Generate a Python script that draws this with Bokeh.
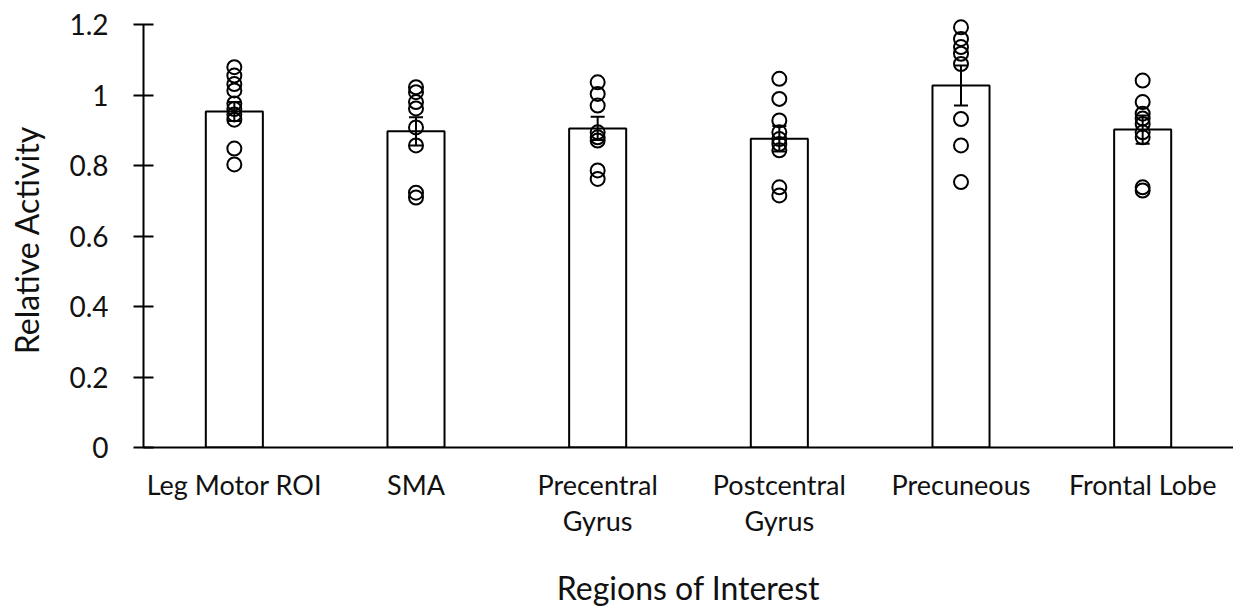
from bokeh.plotting import figure
from bokeh.models import Range1d, FixedTicker, Whisker, ColumnDataSource, TeeHead, LinearAxis
from bokeh.embed import file_html
from bokeh.resources import INLINE

categories = ["Leg Motor ROI", "SMA", "Precentral Gyrus", "Postcentral Gyrus", "Precuneous", "Frontal Lobe"]
label_line1 = ["Leg Motor ROI", "SMA", "Precentral", "Postcentral", "Precuneous", "Frontal Lobe"]
label_line2 = ["", "", "Gyrus", "Gyrus", "", ""]
means = [0.953, 0.897, 0.905, 0.876, 1.027, 0.902]
sem = [0.027, 0.040, 0.033, 0.036, 0.057, 0.040]

leg_motor = [1.079, 1.055, 1.031, 1.013, 0.976, 0.960, 0.945, 0.930, 0.848, 0.803]
sma = [1.022, 1.008, 0.980, 0.962, 0.908, 0.857, 0.723, 0.709]
precentral = [1.036, 1.003, 0.970, 0.894, 0.880, 0.871, 0.786, 0.762]
postcentral = [1.046, 0.989, 0.928, 0.894, 0.875, 0.861, 0.843, 0.738, 0.715]
precuneous = [1.192, 1.159, 1.136, 1.117, 1.088, 0.932, 0.857, 0.753]
frontal = [1.041, 0.980, 0.947, 0.933, 0.918, 0.894, 0.880, 0.738, 0.729]

y_ticks = [0, 0.2, 0.4, 0.6, 0.8, 1.0, 1.2]
y_tick_labels = ["0", "0.2", "0.4", "0.6", "0.8", "1", "1.2"]
x_title = "Regions of Interest"
y_title = "Relative Activity"

FONT = "Lato"
TXT = "#111111"

W, H = 1233, 609
LEFT, BOTTOM, TOP_PX = 143, 162, 24
PX_PER_UNIT = (H - BOTTOM - TOP_PX) / 1.2

# category positions on a numeric axis (one unit per category, centred)
xpos = [i + 0.5 for i in range(len(categories))]
pos_of = dict(zip(categories, xpos))

p = figure(x_range=Range1d(0, len(categories)), y_range=Range1d(0, 1.2 + TOP_PX / PX_PER_UNIT),
           width=W, height=H, output_backend="svg", toolbar_location=None,
           min_border_left=LEFT, min_border_right=0, min_border_top=0, min_border_bottom=BOTTOM,
           x_axis_location=None)
p.outline_line_color = None
p.xgrid.grid_line_color = None
p.ygrid.grid_line_color = None
p.background_fill_color = "white"
p.border_fill_color = "white"

p.vbar(x=xpos, top=means, width=0.314, fill_color="white",
       line_color="black", line_width=2)

src = ColumnDataSource(dict(x=xpos,
                            lower=[m - s for m, s in zip(means, sem)],
                            upper=[m + s for m, s in zip(means, sem)]))
w = Whisker(source=src, base="x", lower="lower", upper="upper", dimension="height",
            line_color="black", line_width=2, level="overlay",
            upper_head=TeeHead(size=14, line_color="black", line_width=2),
            lower_head=TeeHead(size=14, line_color="black", line_width=2))
p.add_layout(w)

groups = [leg_motor, sma, precentral, postcentral, precuneous, frontal]
px, py = [], []
for cat, vals in zip(categories, groups):
    for v in vals:
        px.append(pos_of[cat])
        py.append(v)
p.scatter(px, py, size=14, marker="circle", fill_alpha=0, line_color="black", line_width=2)

# y axis
ya = p.yaxis[0]
ya.ticker = FixedTicker(ticks=y_ticks)
ya.major_label_overrides = {t: l for t, l in zip(y_ticks, y_tick_labels)}
ya.bounds = (0, 1.2)
ya.minor_tick_line_color = None
ya.major_tick_in = 10
ya.major_tick_out = 10
ya.major_tick_line_width = 2
ya.axis_line_width = 2
ya.axis_line_color = "black"
ya.major_tick_line_color = "black"
ya.major_label_text_font = FONT
ya.major_label_text_font_size = "28px"
ya.major_label_text_color = TXT
ya.major_label_standoff = 25
ya.axis_label = y_title + "\u00a0\u00a0\u00a0\u00a0"
ya.axis_label_text_font = FONT
ya.axis_label_text_font_size = "32px"
ya.axis_label_text_font_style = "normal"
ya.axis_label_text_color = TXT
ya.axis_label_standoff = 20

# x axis: first line of category labels
xa = LinearAxis(ticker=FixedTicker(ticks=xpos), major_tick_in=0, major_tick_out=0,
                minor_tick_line_color=None, axis_line_width=2, axis_line_color="black")
xa.major_label_overrides = {x: l for x, l in zip(xpos, label_line1)}
xa.major_label_text_font = FONT
xa.major_label_text_font_size = "27px"
xa.major_label_text_color = TXT
xa.major_label_text_line_height = 1.0
xa.major_label_standoff = 20
p.add_layout(xa, "below")

# second line of category labels + axis title
xa2 = LinearAxis(ticker=FixedTicker(ticks=xpos), axis_line_color=None,
                 major_tick_line_color=None, minor_tick_line_color=None,
                 major_tick_in=0, major_tick_out=0)
xa2.major_label_overrides = {x: l for x, l in zip(xpos, label_line2)}
xa2.major_label_text_font = FONT
xa2.major_label_text_font_size = "27px"
xa2.major_label_text_color = TXT
xa2.major_label_text_line_height = 1.0
xa2.major_label_standoff = 0
xa2.axis_label = x_title
xa2.axis_label_text_font = FONT
xa2.axis_label_text_font_size = "32px"
xa2.axis_label_text_font_style = "normal"
xa2.axis_label_text_color = TXT
xa2.axis_label_standoff = 28
p.add_layout(xa2, "below")

open("out.html", "w").write(file_html(p, INLINE))
